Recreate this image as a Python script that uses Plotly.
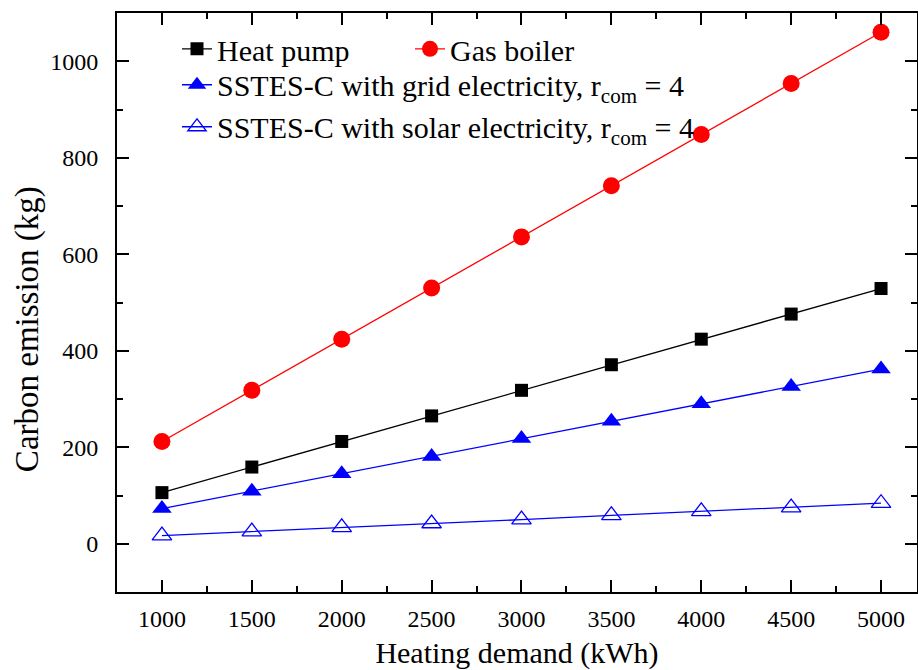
import plotly.graph_objects as go

demand = [1000, 1500, 2000, 2500, 3000, 3500, 4000, 4500, 5000]
heat_pump = [106, 159, 212, 265, 318, 371, 424, 476, 529]
gas_boiler = [212, 318, 424, 530, 636, 742, 848, 954, 1060]
sstes_grid = [73, 109, 145, 181, 218, 254, 290, 326, 362]
sstes_solar = [17, 25, 34, 42, 50, 59, 67, 75, 84]

x_ticks = [1000, 1500, 2000, 2500, 3000, 3500, 4000, 4500, 5000]
y_ticks = [0, 200, 400, 600, 800, 1000]

FONT = "Liberation Serif"

fig = go.Figure()
fig.add_trace(go.Scatter(x=demand, y=heat_pump, name="Heat pump", mode="lines+markers",
                         legend="legend",
                         line=dict(color="black", width=1.3),
                         marker=dict(symbol="square", size=13, color="black")))
fig.add_trace(go.Scatter(x=demand, y=gas_boiler, name="Gas boiler", mode="lines+markers",
                         legend="legend",
                         line=dict(color="#ff0000", width=1.3),
                         marker=dict(symbol="circle", size=17, color="#ff0000")))
fig.add_trace(go.Scatter(x=demand, y=sstes_grid,
                         name="SSTES-C with grid electricity, r<sub>com</sub> = 4",
                         mode="lines+markers", legend="legend2",
                         line=dict(color="#0000ff", width=1.3),
                         marker=dict(symbol="triangle-up", size=17, color="#0000ff")))
fig.add_trace(go.Scatter(x=demand, y=sstes_solar,
                         name="SSTES-C with solar electricity, r<sub>com</sub> = 4",
                         mode="lines+markers", legend="legend2",
                         line=dict(color="#0000ff", width=1.3),
                         marker=dict(symbol="triangle-up-open", size=17, color="#0000ff",
                                     line=dict(width=1.3, color="#0000ff"))))

axis_common = dict(
    showline=True, linecolor="black", linewidth=2, mirror="allticks",
    ticks="inside", ticklen=12, tickwidth=2, tickcolor="black",
    showgrid=False, zeroline=False,
    tickfont=dict(family=FONT, size=24, color="black"),
)

fig.update_xaxes(
    range=[750, 5200], tickvals=x_ticks, ticktext=[str(v) for v in x_ticks],
    minor=dict(ticks="inside", ticklen=6, tickwidth=2, tickcolor="black", dtick=250, tick0=750),
    title=dict(text="Heating demand (kWh)", font=dict(family=FONT, size=30, color="black"), standoff=13),
    ticklabelstandoff=4,
    **axis_common,
)
fig.update_yaxes(
    range=[-100, 1100], tickvals=y_ticks, ticktext=[str(v) for v in y_ticks],
    minor=dict(ticks="inside", ticklen=6, tickwidth=2, tickcolor="black", dtick=100, tick0=-100),
    ticklabelstandoff=12,
    **axis_common,
)

legend_common = dict(
    bgcolor="rgba(0,0,0,0)", borderwidth=0,
    font=dict(family=FONT, size=30, color="black"),
    xanchor="left", yanchor="top", itemsizing="trace",
)

fig.update_layout(
    width=918, height=670,
    margin=dict(l=117, r=1, t=13, b=78, autoexpand=False),
    plot_bgcolor="white", paper_bgcolor="white",
    font=dict(family=FONT, color="black"),
    showlegend=True,
    legend=dict(orientation="h", x=0.075, y=0.983, entrywidth=188, **legend_common),
    legend2=dict(orientation="v", x=0.075, y=0.921, tracegroupgap=0, **legend_common),
    annotations=[dict(
        text="Carbon emission (kg)", textangle=-90, showarrow=False,
        xref="paper", yref="paper", x=-0.1125, y=0.454,
        xanchor="center", yanchor="middle",
        font=dict(family=FONT, size=33, color="black"),
    )],
)

fig.write_html("out.html")
